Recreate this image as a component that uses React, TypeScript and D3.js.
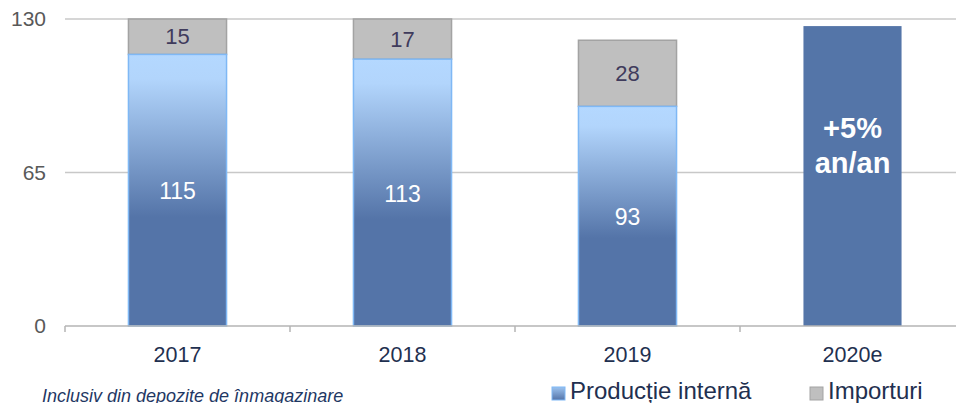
import React, { useEffect, useRef } from 'react';
import * as d3 from 'd3';

const years = ['2017', '2018', '2019', '2020e'];
const productie = [115, 113, 93, 127];
const importuri = [15, 17, 28, 0];
const yTicks = [0, 65, 130];
const estimatLabel = ['+5%', 'an/an'];
const legendItems = ['Producție internă', 'Importuri'];
const nota = 'Inclusiv din depozite de înmagazinare';

const App = () => {
  const svgRef = useRef<SVGSVGElement>(null);

  useEffect(() => {
    const width = 956;
    const height = 403;
    const left = 65;
    const bottom = 326;
    const top = 19;

    const svg = d3.select(svgRef.current).attr('width', width).attr('height', height);
    svg.selectAll('*').remove();

    const defs = svg.append('defs');
    const grad = defs.append('linearGradient').attr('id', 'prodGrad')
      .attr('x1', 0).attr('y1', 0).attr('x2', 0).attr('y2', 1);
    grad.append('stop').attr('offset', '0%').attr('stop-color', '#b4d8ff');
    grad.append('stop').attr('offset', '9%').attr('stop-color', '#b2d5fc');
    grad.append('stop').attr('offset', '60%').attr('stop-color', '#5474a8');
    grad.append('stop').attr('offset', '100%').attr('stop-color', '#5474a8');

    const legGrad = defs.append('linearGradient').attr('id', 'legGrad')
      .attr('x1', 0).attr('y1', 0).attr('x2', 0).attr('y2', 1);
    legGrad.append('stop').attr('offset', '0%').attr('stop-color', '#9cc3f0');
    legGrad.append('stop').attr('offset', '100%').attr('stop-color', '#5474a8');

    const x = d3.scaleBand<string>().domain(years).range([left, 965])
      .paddingInner(0.564).paddingOuter(0.282);
    const y = d3.scaleLinear().domain([0, 130]).range([bottom, top]);
    const bw = x.bandwidth();
    const step = x.step();

    // gridlines
    svg.selectAll('line.grid').data(yTicks.filter(t => t > 0)).enter().append('line')
      .attr('x1', left).attr('x2', width).attr('y1', d => y(d)).attr('y2', d => y(d))
      .attr('stroke', '#c8c8c8').attr('stroke-width', 1.5);

    // y labels
    svg.selectAll('text.ytick').data(yTicks).enter().append('text')
      .attr('x', 46).attr('y', d => y(d)).attr('dy', '0.35em')
      .attr('text-anchor', 'end').attr('font-size', 21).attr('fill', '#595959')
      .text(d => d);

    const fourth = years.length - 1;

    // imports
    svg.selectAll('rect.imp').data(years.slice(0, fourth)).enter().append('rect')
      .attr('x', d => x(d)!).attr('width', bw)
      .attr('y', (d, i) => y(productie[i] + importuri[i]))
      .attr('height', (d, i) => y(productie[i]) - y(productie[i] + importuri[i]))
      .attr('fill', '#bfbfbf').attr('stroke', '#a3a3a3').attr('stroke-width', 1.5);

    // domestic production
    svg.selectAll('rect.prod').data(years.slice(0, fourth)).enter().append('rect')
      .attr('x', d => x(d)!).attr('width', bw)
      .attr('y', (d, i) => y(productie[i]))
      .attr('height', (d, i) => y(0) - y(productie[i]))
      .attr('fill', 'url(#prodGrad)').attr('stroke', '#7fb8f5').attr('stroke-width', 1.5);

    // estimate bar
    svg.append('rect')
      .attr('x', x(years[fourth])!).attr('width', bw)
      .attr('y', y(productie[fourth]))
      .attr('height', y(0) - y(productie[fourth]))
      .attr('fill', '#5475a8');

    svg.selectAll('text.est').data(estimatLabel).enter().append('text')
      .attr('x', x(years[fourth])! + bw / 2).attr('y', (d, i) => 138 + i * 35)
      .attr('text-anchor', 'middle').attr('font-size', 29).attr('font-weight', 'bold')
      .attr('fill', '#ffffff').text(d => d);

    // value labels
    svg.selectAll('text.vprod').data(years.slice(0, fourth)).enter().append('text')
      .attr('x', d => x(d)! + bw / 2)
      .attr('y', (d, i) => (y(0) + y(productie[i])) / 2 + 1)
      .attr('dy', '0.35em').attr('text-anchor', 'middle').attr('font-size', 23)
      .attr('fill', '#ffffff').text((d, i) => productie[i]);

    svg.selectAll('text.vimp').data(years.slice(0, fourth)).enter().append('text')
      .attr('x', d => x(d)! + bw / 2)
      .attr('y', (d, i) => (y(productie[i]) + y(productie[i] + importuri[i])) / 2)
      .attr('dy', '0.35em').attr('text-anchor', 'middle').attr('font-size', 22)
      .attr('fill', '#3f3b5c').text((d, i) => importuri[i]);

    // x axis
    svg.append('line').attr('x1', left).attr('x2', width).attr('y1', bottom).attr('y2', bottom)
      .attr('stroke', '#b4b4b4').attr('stroke-width', 1.5);
    const bounds = years.map(d => x(d)! + bw / 2 - step / 2);
    svg.selectAll('line.xtick').data(bounds).enter().append('line')
      .attr('x1', d => d).attr('x2', d => d).attr('y1', bottom).attr('y2', bottom + 6)
      .attr('stroke', '#b4b4b4').attr('stroke-width', 1.5);

    svg.selectAll('text.xlab').data(years).enter().append('text')
      .attr('x', d => x(d)! + bw / 2).attr('y', 362)
      .attr('text-anchor', 'middle').attr('font-size', 21.5).attr('fill', '#1f3050')
      .text(d => d);

    // note
    svg.append('text').attr('x', 42).attr('y', 402).attr('font-size', 18)
      .attr('font-style', 'italic').attr('fill', '#1f3864').text(nota);

    // legend
    const legX = [552, 810];
    const legFill = ['url(#legGrad)', '#bfbfbf'];
    const legStroke = ['#7fb8f5', '#a3a3a3'];
    legendItems.forEach((t, i) => {
      svg.append('rect').attr('x', legX[i]).attr('y', 387).attr('width', 13).attr('height', 13)
        .attr('fill', legFill[i]).attr('stroke', legStroke[i]).attr('stroke-width', 1);
      svg.append('text').attr('x', legX[i] + 18).attr('y', 399).attr('font-size', 24)
        .attr('fill', '#1f3050').text(t);
    });
  }, []);

  return (
    <svg ref={svgRef}
      style={{ position: 'absolute', left: 0, top: 0, fontFamily: '"Liberation Sans", Arial, sans-serif' }} />
  );
};

export default App;
